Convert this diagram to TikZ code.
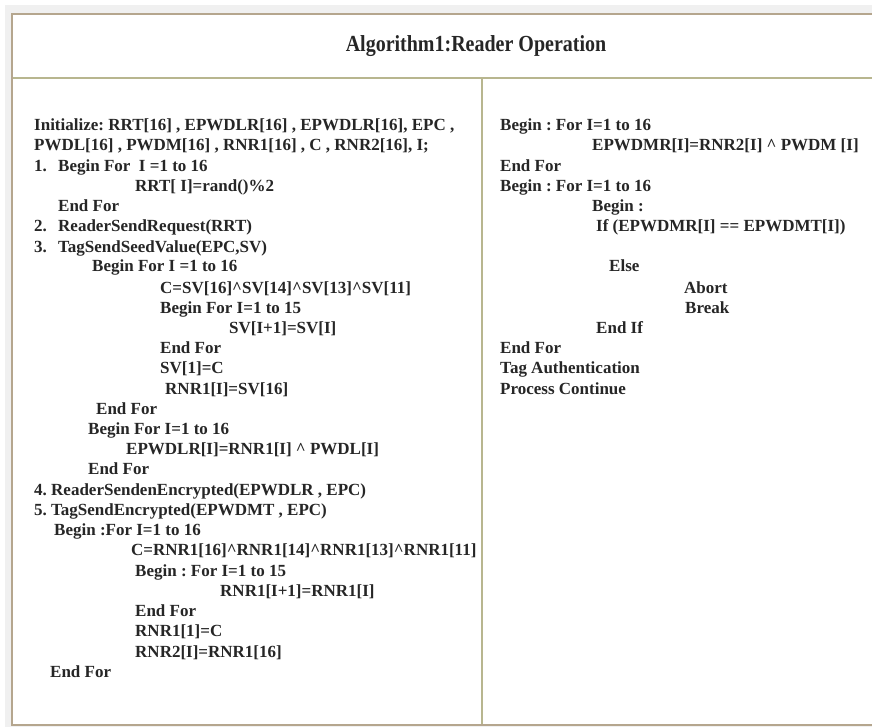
\documentclass[tikz,border=0pt]{standalone}
\usepackage{fontspec}
\setmainfont{Liberation Serif}
\usetikzlibrary{positioning}
\definecolor{framec}{HTML}{B5A68E}
\definecolor{rulec}{HTML}{B8B68F}
\definecolor{inkc}{HTML}{262626}
\tikzset{
	code/.style={font=\fontsize{17}{19}\selectfont\bfseries\frenchspacing, text=inkc, anchor=base west, inner sep=0pt},
	heading/.style={font=\fontsize{20}{22}\selectfont\bfseries, text=inkc, inner sep=0pt, yscale=1.15, transform shape}
}
\def\xor{\textasciicircum}

\begin{document}
\begin{tikzpicture}[x=1pt, y=-1pt]
		%%%%% START %%%%%
		\useasboundingbox (0, 0) rectangle (872, 727);
		\fill[black!6] (5, 5) rectangle (872, 727);
		\draw[framec, line width=2.5pt, fill=white] (12, 14) rectangle (885, 725);
		\draw[rulec, line width=1.5pt] (13, 78) -- (872, 78);
		\draw[rulec, line width=1.5pt] (482, 78) -- (482, 724);
		
		\node[heading] (title) at (476, 46) {Algorithm1:Reader Operation};
		
		%% left column
		\node[code] (l1) at (34, 131) {Initialize: RRT[16] , EPWDLR[16] , EPWDLR[16], EPC ,};
		\node[code] (l2) at (34, 151) {PWDL[16] , PWDM[16] , RNR1[16] , C , RNR2[16], I;};
		\node[code] (n1) at (34, 172) {1.};
		\node[code] (l3) at (58, 172) {Begin For\ \ I =1 to 16};
		\node[code] (l4) at (135, 192) {RRT[ I]=rand()\%2};
		\node[code] (l5) at (58, 212) {End For};
		\node[code] (n2) at (34, 232) {2.};
		\node[code] (l6) at (58, 232) {ReaderSendRequest(RRT)};
		\node[code] (n3) at (34, 252) {3.};
		\node[code] (l7) at (58, 252) {TagSendSeedValue(EPC,SV)};
		\node[code] (l8) at (92, 272) {Begin For I =1 to 16};
		\node[code] (l9) at (160, 293) {C=SV[16]\xor SV[14]\xor SV[13]\xor SV[11]};
		\node[code] (l10) at (160, 313) {Begin For I=1 to 15};
		\node[code] (l11) at (229, 333) {SV[I+1]=SV[I]};
		\node[code] (l12) at (160, 353) {End For};
		\node[code] (l13) at (160, 373) {SV[1]=C};
		\node[code] (l14) at (165, 394) {RNR1[I]=SV[16]};
		\node[code] (l15) at (96, 414) {End For};
		\node[code] (l16) at (88, 434) {Begin For I=1 to 16};
		\node[code] (l17) at (126, 454) {EPWDLR[I]=RNR1[I] \xor\ PWDL[I]};
		\node[code] (l18) at (88, 474) {End For};
		\node[code] (l19) at (34, 495) {4. ReaderSendenEncrypted(EPWDLR , EPC)};
		\node[code] (l20) at (34, 515) {5. TagSendEncrypted(EPWDMT , EPC)};
		\node[code] (l21) at (54, 535) {Begin :For I=1 to 16};
		\node[code] (l22) at (131, 555) {C=RNR1[16]\xor RNR1[14]\xor RNR1[13]\xor RNR1[11]};
		\node[code] (l23) at (135, 576) {Begin : For I=1 to 15};
		\node[code] (l24) at (220, 596) {RNR1[I+1]=RNR1[I]};
		\node[code] (l25) at (135, 616) {End For};
		\node[code] (l26) at (135, 636) {RNR1[1]=C};
		\node[code] (l27) at (135, 657) {RNR2[I]=RNR1[16]};
		\node[code] (l28) at (50, 677) {End For};
		
		%% right column
		\node[code] (r1) at (500, 131) {Begin : For I=1 to 16};
		\node[code] (r2) at (592, 151) {EPWDMR[I]=RNR2[I] \xor\ PWDM [I]};
		\node[code] (r3) at (500, 172) {End For};
		\node[code] (r4) at (500, 192) {Begin : For I=1 to 16};
		\node[code] (r5) at (592, 212) {Begin :};
		\node[code] (r6) at (596, 232) {If (EPWDMR[I] == EPWDMT[I])};
		\node[code] (r7) at (609, 272) {Else};
		\node[code] (r8) at (684, 293) {Abort};
		\node[code] (r9) at (685, 313) {Break};
		\node[code] (r10) at (596, 333) {End If};
		\node[code] (r11) at (500, 353) {End For};
		\node[code] (r12) at (500, 373) {Tag Authentication};
		\node[code] (r13) at (500, 394) {Process Continue};
		%%%%% END %%%%%
	\end{tikzpicture}
\end{document}
